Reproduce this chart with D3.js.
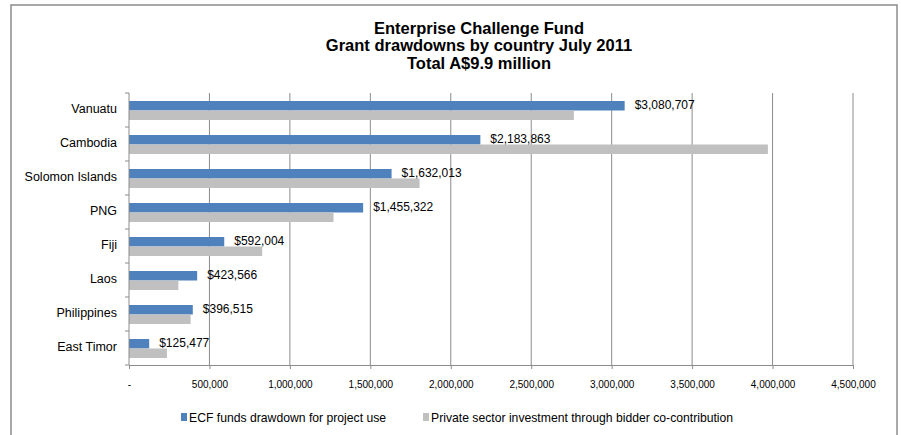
<!DOCTYPE html>
<html>
<head>
<meta charset="utf-8">
<script src="https://cdn.jsdelivr.net/npm/d3@7"></script>
<style>
  body { margin: 0; background: #fff; }
  text { font-family: "Liberation Sans", Arial, sans-serif; fill: #000; }
</style>
</head>
<body>
<div id="chart"></div>
<script>
// Data
var countries = ["Vanuatu", "Cambodia", "Solomon Islands", "PNG", "Fiji", "Laos", "Philippines", "East Timor"];
var ecfFunds = [3080707, 2183863, 1632013, 1455322, 592004, 423566, 396515, 125477];
var privateInvest = [2765000, 3971000, 1806000, 1271000, 828000, 307000, 383000, 236000];
var xTicks = [0, 500000, 1000000, 1500000, 2000000, 2500000, 3000000, 3500000, 4000000, 4500000];
var seriesNames = ["ECF funds drawdown for project use", "Private sector investment through bidder co-contribution"];
var colors = ["#4F81BD", "#C0C0C0"];

var svgWidth = 901;
var svgHeight = 435;

var margin = { top: 93, left: 129 };

var svg = d3.select("#chart")
  .append("svg")
  .attr("width", svgWidth)
  .attr("height", svgHeight);

// outer frame
svg.append("rect")
  .attr("x", 11)
  .attr("y", 5)
  .attr("width", 886)
  .attr("height", 440)
  .attr("fill", "#fff")
  .attr("stroke", "#8c8c8c")
  .attr("stroke-width", 1.5);

// title
var titleLines = ["Enterprise Challenge Fund", "Grant drawdowns by country July 2011", "Total A$9.9 million"];
svg.selectAll(".title")
  .data(titleLines)
  .enter()
  .append("text")
  .attr("class", "title")
  .attr("x", 479)
  .attr("y", (d, i) => 33.5 + i * 17.5)
  .attr("text-anchor", "middle")
  .style("font-size", "16.5px")
  .style("font-weight", "bold")
  .text(d => d);

var chartGroup = svg.append("g")
  .attr("transform", `translate(${margin.left}, ${margin.top})`);

var plotH = 272;

var xScale = d3.scaleLinear()
  .domain([0, 4500000])
  .range([0, 724]);

var yScale = d3.scaleBand()
  .domain(countries)
  .range([0, plotH]);

// gridlines
chartGroup.selectAll(".grid")
  .data(xTicks.slice(1))
  .enter()
  .append("line")
  .attr("class", "grid")
  .attr("x1", d => xScale(d))
  .attr("x2", d => xScale(d))
  .attr("y1", 0)
  .attr("y2", plotH)
  .attr("stroke", "#8c8c8c")
  .attr("stroke-width", 1);

// bars
var barTop = 8;
var barH = 9.5;
var rows = countries.map((c, i) => ({ country: c, ecf: ecfFunds[i], priv: privateInvest[i] }));

chartGroup.selectAll(".ecf")
  .data(rows)
  .enter()
  .append("rect")
  .attr("class", "ecf")
  .attr("x", 0)
  .attr("y", d => yScale(d.country) + barTop)
  .attr("width", d => xScale(d.ecf))
  .attr("height", barH)
  .attr("fill", colors[0]);

chartGroup.selectAll(".priv")
  .data(rows)
  .enter()
  .append("rect")
  .attr("class", "priv")
  .attr("x", 0)
  .attr("y", d => yScale(d.country) + barTop + barH)
  .attr("width", d => xScale(d.priv))
  .attr("height", barH)
  .attr("fill", colors[1]);

// data labels
var fmt = d3.format(",");
chartGroup.selectAll(".lbl")
  .data(rows)
  .enter()
  .append("text")
  .attr("class", "lbl")
  .attr("x", d => xScale(d.ecf) + 10)
  .attr("y", d => yScale(d.country) + barTop + 8)
  .style("font-size", "12px")
  .text(d => "$" + fmt(d.ecf));

// axes
var bottomAxis = d3.axisBottom(xScale)
  .tickValues(xTicks)
  .tickSize(4)
  .tickFormat(d => d === 0 ? "-" : fmt(d));

var xAxisG = chartGroup.append("g")
  .attr("transform", `translate(0, ${plotH})`)
  .call(bottomAxis);
xAxisG.select(".domain").attr("stroke", "#8c8c8c");
xAxisG.selectAll(".tick line").attr("stroke", "#8c8c8c");
xAxisG.selectAll(".tick text")
  .attr("y", 16)
  .style("font-size", "10px")
  .style("font-family", "'Liberation Sans', Arial, sans-serif");

var leftG = chartGroup.append("g");
leftG.append("line")
  .attr("x1", 0).attr("x2", 0)
  .attr("y1", 0).attr("y2", plotH)
  .attr("stroke", "#8c8c8c");
leftG.selectAll(".ytick")
  .data(d3.range(countries.length + 1))
  .enter()
  .append("line")
  .attr("class", "ytick")
  .attr("x1", -4).attr("x2", 0)
  .attr("y1", i => i * yScale.bandwidth())
  .attr("y2", i => i * yScale.bandwidth())
  .attr("stroke", "#8c8c8c");
leftG.selectAll(".ylab")
  .data(countries)
  .enter()
  .append("text")
  .attr("class", "ylab")
  .attr("x", -12)
  .attr("y", d => yScale(d) + yScale.bandwidth() / 2 - 1)
  .attr("dy", "0.35em")
  .attr("text-anchor", "end")
  .style("font-size", "12.5px")
  .text(d => d);

// legend
var legendX = [181, 423];
var legend = svg.selectAll(".legend")
  .data(seriesNames)
  .enter()
  .append("g")
  .attr("class", "legend")
  .attr("transform", (d, i) => `translate(${legendX[i]}, 418)`);
legend.append("rect")
  .attr("x", 0).attr("y", -5)
  .attr("width", 6).attr("height", 8)
  .attr("fill", (d, i) => colors[i]);
legend.append("text")
  .attr("x", 8)
  .attr("y", 0)
  .attr("dy", "0.35em")
  .style("font-size", "12.2px")
  .text(d => d);
</script>
</body>
</html>
